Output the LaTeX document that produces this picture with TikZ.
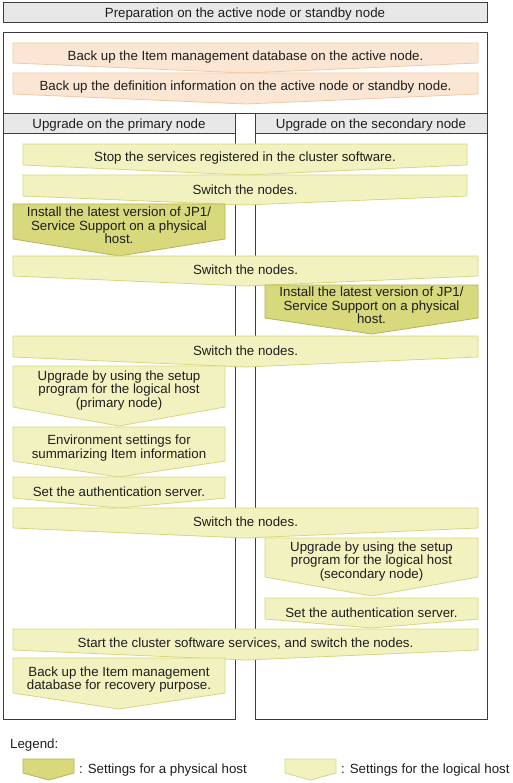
\documentclass[tikz,border=0pt]{standalone}
\usepackage{fontspec}
\setmainfont{Liberation Sans}
\definecolor{prepfill}{HTML}{FBE6D4}
\definecolor{prepline}{HTML}{F0C8A4}
\definecolor{logfill}{HTML}{F2F2C0}
\definecolor{logline}{HTML}{D6D67C}
\definecolor{physfill}{HTML}{D8D87C}
\definecolor{physline}{HTML}{B4B450}
\definecolor{headfill}{HTML}{E8E8E8}
\definecolor{boxline}{HTML}{3C3C3C}
\definecolor{txt}{HTML}{1E1E1E}
\tikzset{
  prepstep/.style={fill=prepfill,draw=prepline,line width=0.8pt},
  logstep/.style={fill=logfill,draw=logline,line width=0.8pt},
  physstep/.style={fill=physfill,draw=physline,line width=0.8pt},
  steptext/.style={inner sep=0pt,align=center,text=txt,font=\fontsize{13.3}{13.4}\selectfont},
  headbox/.style={fill=headfill,draw=boxline,line width=1pt},
  colbox/.style={draw=boxline,line width=1pt},
}
% arrow shape: style, x left, x right, y top, y side, y tip
\newcommand{\flowshape}[6]{%
  \draw[#1] (#2,#4) -- (#3,#4) -- (#3,#5) -- ({(#2+#3)/2},#6) -- (#2,#5) -- cycle;
}
% arrow with text: name, style, x left, x right, y top, y side, y tip, text
\newcommand{\flowstep}[8]{%
  \flowshape{#2}{#3}{#4}{#5}{#6}{#7}
  \node[steptext] (#1) at ({(#3+#4)/2},{(#5+#6)/2+4}) {#8};
}
\begin{document}
\begin{tikzpicture}[x=1pt,y=-1pt]
  \useasboundingbox (0,0) rectangle (513,783);

  % boxes
  \draw[headbox] (3,3) rectangle (487,23);
  \node[steptext] (prephead) at (245,14) {Preparation on the active node or standby node};
  \draw[colbox] (3,33) rectangle (487,114);
  \draw[colbox] (3,114) rectangle (235,719);
  \draw[colbox] (255,114) rectangle (487,719);
  \draw[headbox] (3,114) rectangle (235,134);
  \draw[headbox] (255,114) rectangle (487,134);
  \node[steptext] (primhead) at (119,125) {Upgrade on the primary node};
  \node[steptext] (seconhead) at (371,125) {Upgrade on the secondary node};

  % preparation
  \flowstep{backdb}{prepstep}{13}{478}{43}{63}{73}{Back up the Item management database on the active node.}
  \flowstep{backdef}{prepstep}{13}{478}{73}{94}{104}{Back up the definition information on the active node or standby node.}

  % upgrade
  \flowstep{stopsrv}{logstep}{23}{467}{144}{165}{175}{Stop the services registered in the cluster software.}
  \flowstep{switcha}{logstep}{23}{467}{175}{196}{205}{Switch the nodes.}
  \flowstep{instprim}{physstep}{13}{225}{204}{239}{256}{Install the latest version of JP1/\\Service Support on a physical\\host.}
  \flowstep{switchb}{logstep}{13}{478}{256}{276}{286}{Switch the nodes.}
  \flowstep{instsec}{physstep}{265}{478}{285}{318}{334}{Install the latest version of JP1/\\Service Support on a physical\\host.}
  \flowstep{switchc}{logstep}{13}{478}{336}{357}{367}{Switch the nodes.}
  \flowstep{setupprim}{logstep}{13}{225}{366}{407}{426}{Upgrade by using the setup\\program for the logical host\\(primary node)}
  \flowstep{envset}{logstep}{13}{225}{427}{461}{477}{Environment settings for\\summarizing Item information}
  \flowstep{authprim}{logstep}{13}{225}{477}{498}{508}{Set the authentication server.}
  \flowstep{switchd}{logstep}{13}{478}{508}{528}{538}{Switch the nodes.}
  \flowstep{setupsec}{logstep}{265}{478}{538}{577}{596}{Upgrade by using the setup\\program for the logical host\\(secondary node)}
  \flowstep{authsec}{logstep}{265}{478}{598}{619}{628}{Set the authentication server.}
  \flowstep{startclu}{logstep}{13}{478}{629}{650}{660}{Start the cluster software services, and switch the nodes.}
  \flowstep{backrec}{logstep}{13}{225}{658}{693}{709}{Back up the Item management\\database for recovery purpose.}

  % legend
  \node[steptext,anchor=west] (legend) at (10,745) {Legend:};
  \flowshape{physstep}{23}{74}{759}{773}{780}
  \node[steptext,anchor=west] (physleg) at (79,770) {: Settings for a physical host};
  \flowshape{logstep}{285}{336}{759}{773}{780}
  \node[steptext,anchor=west] (logleg) at (341,770) {: Settings for the logical host};
\end{tikzpicture}
\end{document}
